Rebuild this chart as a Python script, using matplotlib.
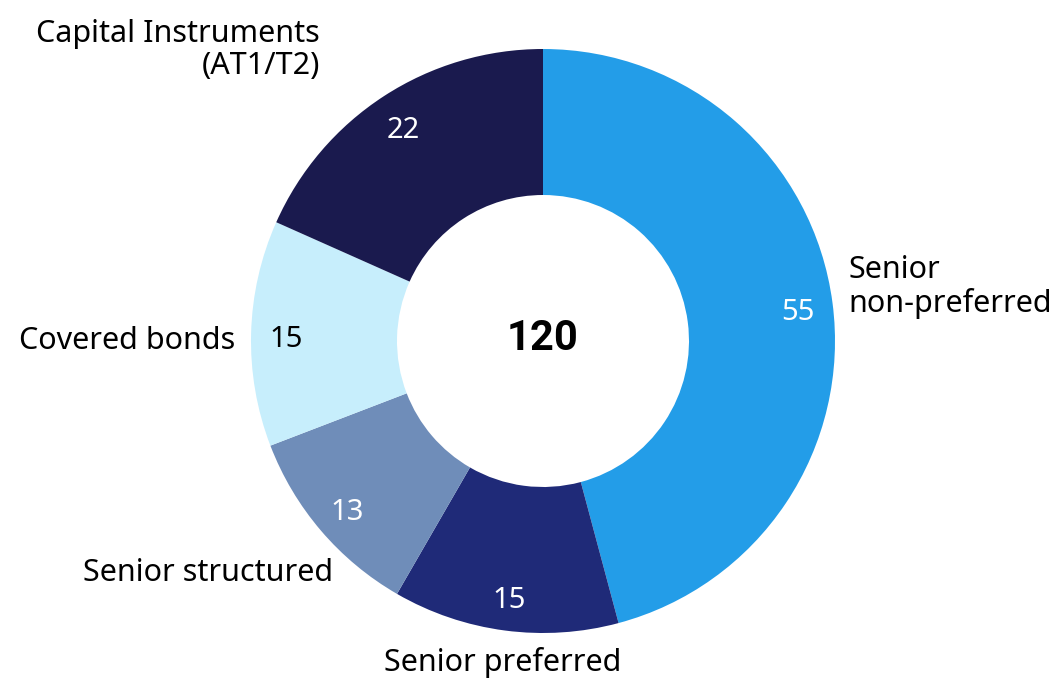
import matplotlib
matplotlib.use("Agg")
import matplotlib.pyplot as plt

# Issuance by instrument type
categories = ["Senior\nnon-preferred", "Senior preferred", "Senior structured",
              "Covered bonds", "Capital Instruments\n(AT1/T2)"]
values = [55, 15, 13, 15, 22]
total_label = "120"

colors = ["#239DE8", "#1F2A78", "#6F8DB9", "#C7EEFC", "#1A1A4E"]
value_colors = ["white", "white", "white", "black", "white"]

plt.rcParams["font.family"] = ["Noto Sans", "DejaVu Sans"]

W, H = 1061, 681
fig = plt.figure(figsize=(W / 100, H / 100), dpi=100)
ax = fig.add_axes([0, 0, 1, 1])

cx, cy = 543, H - 341
R = 292
wedges, _, autotexts = ax.pie(
    values, colors=colors, startangle=90, counterclock=False,
    center=(cx, cy), radius=R, frame=True,
    wedgeprops=dict(width=R - 146, linewidth=0),
    autopct=lambda p: f"{round(p * sum(values) / 100):d}",
    pctdistance=0.88, textprops=dict(fontsize=21),
)
for t, c in zip(autotexts, value_colors):
    t.set_color(c)
    x, y = t.get_position()
    t.set_position((x, y - 5))
ax.set_xlim(0, W)
ax.set_ylim(0, H)
ax.set_aspect("equal")
ax.axis("off")

ax.text(cx, cy + 3, total_label, ha="center", va="center",
        fontsize=30, fontweight="bold", color="black",
        family=["Roboto", "DejaVu Sans"])

# Outer category labels: (x, y, horizontal alignment)
label_pos = [
    (848, H - 287, "left"),
    (503, H - 663, "center"),
    (333, H - 573, "right"),
    (235, H - 341, "right"),
    (320, H - 50, "right"),
]
for name, (x, y, ha) in zip(categories, label_pos):
    ax.text(x, y, name, ha=ha, va="center", fontsize=22,
            color="black", multialignment=ha, linespacing=1.1)

fig.savefig("out.png", dpi=100, facecolor="white")
